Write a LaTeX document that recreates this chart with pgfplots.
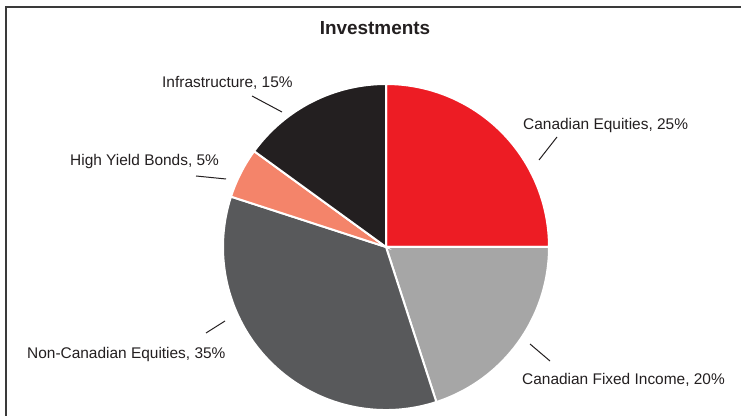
\documentclass[border=0pt]{standalone}
\usepackage{pgfplots}
\usepackage{pgfplotstable}
\pgfplotsset{compat=1.18}
\usepackage{fontspec}
\setmainfont{Liberation Sans}
\definecolor{cRed}{HTML}{ED1C24}
\definecolor{cLight}{HTML}{A6A6A6}
\definecolor{cDark}{HTML}{58595B}
\definecolor{cSalmon}{HTML}{F4846A}
\definecolor{cBlack}{HTML}{231F20}
\definecolor{txt}{HTML}{231F20}
\definecolor{frame}{HTML}{3A3A3A}

\pgfplotstableread{
pct
25
20
35
5
15
}\piedata

\begin{document}
\begin{tikzpicture}
% cumulative angles (clockwise from 12 o'clock)
\xdef\cum{90}%
\foreach \i in {0,...,4}{%
  \pgfplotstablegetelem{\i}{pct}\of\piedata
  \pgfmathsetmacro{\endang}{\cum-3.6*\pgfplotsretval}%
  \expandafter\xdef\csname sA\i\endcsname{\cum}%
  \expandafter\xdef\csname eA\i\endcsname{\endang}%
  \xdef\cum{\endang}%
}%
\begin{axis}[
  scale only axis, width=741bp, height=416bp,
  xmin=0, xmax=741, ymin=0, ymax=416,
  hide axis, clip=false,
]
\def\cx{386}\def\cy{169}\def\R{163bp}
\fill[cRed, draw=white, line width=2bp] (axis cs:\cx,\cy) -- ++(\csname sA0\endcsname:\R) arc[start angle=\csname sA0\endcsname, end angle=\csname eA0\endcsname, radius=\R] -- cycle;
\fill[cLight, draw=white, line width=2bp] (axis cs:\cx,\cy) -- ++(\csname sA1\endcsname:\R) arc[start angle=\csname sA1\endcsname, end angle=\csname eA1\endcsname, radius=\R] -- cycle;
\fill[cDark, draw=white, line width=2bp] (axis cs:\cx,\cy) -- ++(\csname sA2\endcsname:\R) arc[start angle=\csname sA2\endcsname, end angle=\csname eA2\endcsname, radius=\R] -- cycle;
\fill[cSalmon, draw=white, line width=2bp] (axis cs:\cx,\cy) -- ++(\csname sA3\endcsname:\R) arc[start angle=\csname sA3\endcsname, end angle=\csname eA3\endcsname, radius=\R] -- cycle;
\fill[cBlack, draw=white, line width=2bp] (axis cs:\cx,\cy) -- ++(\csname sA4\endcsname:\R) arc[start angle=\csname sA4\endcsname, end angle=\csname eA4\endcsname, radius=\R] -- cycle;

% frame
\draw[frame, line width=2bp] (axis cs:5.5,0) -- (axis cs:5.5,409) -- (axis cs:741,409);

% title
\node[txt, anchor=base, inner sep=0pt, font=\fontsize{19}{22}\selectfont\bfseries] at (axis cs:375,381) {Investments};

% labels
\begin{scope}[every node/.style={txt, inner sep=0pt, font=\fontsize{15.5}{18}\selectfont}]
\node[anchor=base west] at (axis cs:523,286) {Canadian Equities, 25\%};
\node[anchor=base west] at (axis cs:522,31) {Canadian Fixed Income, 20\%};
\node[anchor=base west] at (axis cs:27,57) {Non-Canadian Equities, 35\%};
\node[anchor=base west] at (axis cs:70,250) {High Yield Bonds, 5\%};
\node[anchor=base west] at (axis cs:162,328) {Infrastructure, 15\%};
\end{scope}

% leader lines
\begin{scope}[txt, line width=1bp]
\draw (axis cs:539,256) -- (axis cs:557,279);
\draw (axis cs:530,72) -- (axis cs:550,55);
\draw (axis cs:206,83) -- (axis cs:225,95);
\draw (axis cs:196,240) -- (axis cs:226,237);
\draw (axis cs:252,320) -- (axis cs:282,304);
\end{scope}
\coordinate (bl) at (axis cs:0,0);
\coordinate (tr) at (axis cs:741,416);
\end{axis}
\pgfresetboundingbox
\path[use as bounding box] (bl) rectangle (tr);
\end{tikzpicture}
\end{document}
